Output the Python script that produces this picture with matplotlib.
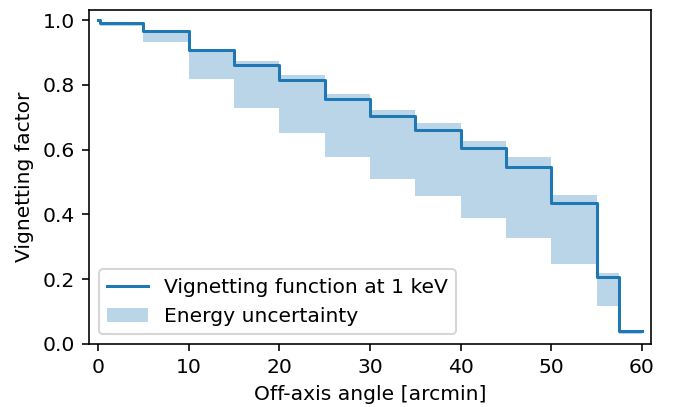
import numpy as np
import matplotlib
matplotlib.use("Agg")
import matplotlib.pyplot as plt

# bin edges in arcmin and per-bin values
edges = [0, 0.25, 5, 10, 15, 20, 25, 30, 35, 40, 45, 50, 55, 57.5, 60]
vignetting = [1.0, 0.99, 0.967, 0.907, 0.861, 0.815, 0.756, 0.703, 0.660,
              0.604, 0.547, 0.435, 0.208, 0.040]
upper = [1.0, 0.99, 0.97, 0.907, 0.873, 0.829, 0.773, 0.722, 0.681,
         0.628, 0.576, 0.459, 0.218, 0.040]
lower = [1.0, 0.981, 0.931, 0.817, 0.727, 0.652, 0.577, 0.508, 0.458,
         0.389, 0.326, 0.246, 0.118, 0.031]

DPI = 146
fig = plt.figure(figsize=(681 / DPI, 407 / DPI), dpi=DPI)
ax = fig.add_axes([0.1307, 0.1548, 0.8253, 0.8206])

x = np.array(edges)
ax.step(x, vignetting + vignetting[-1:], where="post", color="tab:blue", lw=1.5,
        label="Vignetting function at 1 keV", zorder=3)
ax.fill_between(x, lower + lower[-1:], upper + upper[-1:], step="post",
                color="tab:blue", alpha=0.3, lw=0, label="Energy uncertainty")

ax.set_xlim(-1, 61)
ax.set_ylim(0, 1.031)
ax.set_xticks(np.arange(0, 61, 10))
ax.set_yticks(np.arange(0, 1.01, 0.2))
ax.set_xlabel("Off-axis angle [arcmin]")
ax.set_ylabel("Vignetting factor")
ax.legend(loc="lower left")

fig.savefig("out.png", dpi=DPI)
